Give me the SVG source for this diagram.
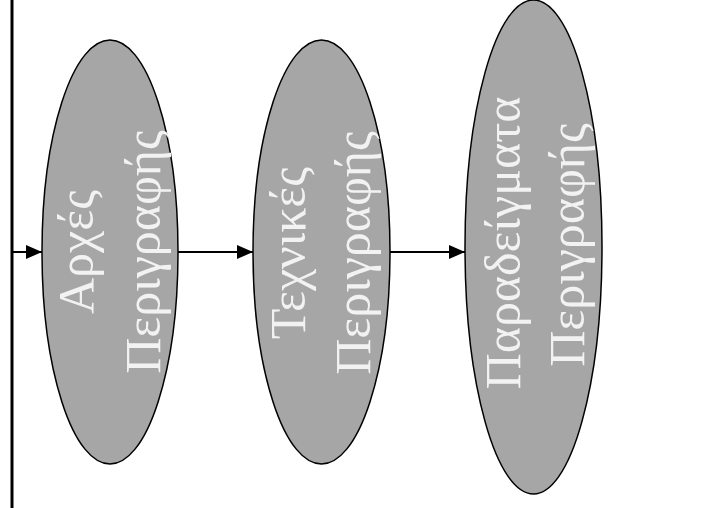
<svg xmlns="http://www.w3.org/2000/svg" width="717" height="508" viewBox="0 0 717 508">
  <style>
    .node { fill: #a6a6a6; stroke: #000; stroke-width: 1.5; }
    .label { fill: #f2f2f2; font-family: "Liberation Serif", "Times New Roman", serif; font-size: 50px; text-anchor: middle; }
    .edge { stroke: #000; stroke-width: 2; fill: none; }
  </style>
  <defs>
    <marker id="arrow" markerUnits="userSpaceOnUse" markerWidth="16" markerHeight="14" refX="16" refY="7" orient="auto">
      <path d="M0,0 L16,7 L0,14 Z" fill="#000"/>
    </marker>
  </defs>

  <!-- vertical spine and flow arrows -->
  <g id="connectors">
    <line x1="12" y1="0" x2="12" y2="508" stroke="#000" stroke-width="3"/>
    <line class="edge" x1="12" y1="252" x2="42" y2="252" marker-end="url(#arrow)"/>
    <line class="edge" x1="178" y1="252" x2="253" y2="252" marker-end="url(#arrow)"/>
    <line class="edge" x1="390" y1="252" x2="465" y2="252" marker-end="url(#arrow)"/>
  </g>

  <g id="node-arches">
    <ellipse class="node" cx="110" cy="252" rx="68" ry="212"/>
    <text class="label" transform="translate(93,252) rotate(-90)">Αρχές</text>
    <text class="label" transform="translate(160,252) rotate(-90)">Περιγραφής</text>
  </g>

  <g id="node-technikes">
    <ellipse class="node" cx="321.5" cy="252" rx="68.5" ry="212"/>
    <text class="label" transform="translate(305,253) rotate(-90)">Τεχνικές</text>
    <text class="label" transform="translate(370,253) rotate(-90)">Περιγραφής</text>
  </g>

  <g id="node-paradeigmata">
    <ellipse class="node" cx="533.5" cy="247" rx="68.5" ry="247"/>
    <text class="label" transform="translate(520,243) rotate(-90)">Παραδείγματα</text>
    <text class="label" transform="translate(584,245) rotate(-90)">Περιγραφής</text>
  </g>
</svg>
